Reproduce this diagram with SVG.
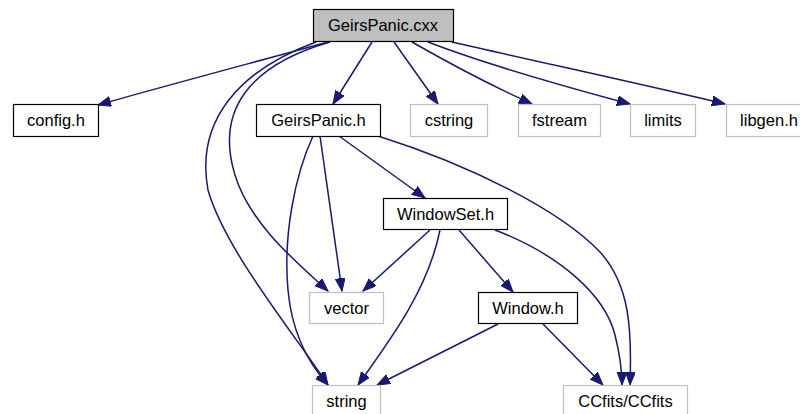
<svg xmlns="http://www.w3.org/2000/svg" width="800" height="414" viewBox="0 0 800 414">
<style>
.n rect{fill:#ffffff;stroke:#000000;stroke-width:1.2}
.n.root rect{fill:#bfbfbf}
.n.ext rect{stroke:#bfbfbf}
.n text{font-family:"Liberation Sans",Arial,sans-serif;font-size:16.5px;fill:#000000;text-anchor:middle}
#edges path{fill:none;stroke:#191970;stroke-width:1.5;marker-end:url(#arr)}
</style>
<defs>
<marker id="arr" markerUnits="userSpaceOnUse" markerWidth="14" markerHeight="11" refX="13" refY="5" orient="auto">
<path d="M0,0 L13,5 L0,10 z" fill="#191970" stroke="#191970" stroke-width="1"/>
</marker>
</defs>
<rect width="800" height="414" fill="#ffffff"/>
<g id="edges">
<path d="M328,42 C270,58 150,90 98,105"/>
<path d="M372,42 L333,104"/>
<path d="M394,42 L438,104"/>
<path d="M412,42 C440,58 490,85 532,104"/>
<path d="M428,42 C480,62 570,88 630,104"/>
<path d="M452,42 C530,60 650,86 725,104"/>
<path d="M330,42 C250,65 215,110 235,175 C250,225 300,265 328,291"/>
<path d="M316,42 C240,70 195,120 208,190 C225,250 295,335 328,385"/>
<path d="M313,136 C295,175 283,235 288,290 C292,335 310,365 328,385"/>
<path d="M320,136 L342,291"/>
<path d="M339,136 L425,198"/>
<path d="M378,136 C470,165 560,210 600,252 C630,285 632,330 630,385"/>
<path d="M430,230 L363,291"/>
<path d="M459,230 L513,292"/>
<path d="M440,230 C428,290 390,340 358,385"/>
<path d="M498,324 L377,385"/>
<path d="M543,324 L603,385"/>
<path d="M495,230 C560,255 605,295 615,335 C620,355 622,370 622,385"/>
</g>
<g id="n_cxx" class="n root"><rect x="313.5" y="9.5" width="140" height="32"/><text x="383" y="31">GeirsPanic.cxx</text></g>
<g id="n_config" class="n"><rect x="13.5" y="104.5" width="85" height="32"/><text x="56" y="126">config.h</text></g>
<g id="n_gph" class="n"><rect x="256.5" y="104.5" width="124" height="32"/><text x="318.5" y="126">GeirsPanic.h</text></g>
<g id="n_cstring" class="n ext"><rect x="410.5" y="104.5" width="77" height="32"/><text x="449" y="126">cstring</text></g>
<g id="n_fstream" class="n ext"><rect x="518.5" y="104.5" width="82" height="32"/><text x="559.5" y="126">fstream</text></g>
<g id="n_limits" class="n ext"><rect x="630.5" y="104.5" width="65" height="32"/><text x="663" y="126">limits</text></g>
<g id="n_libgen" class="n ext"><rect x="726.5" y="104.5" width="85" height="32"/><text x="769" y="126">libgen.h</text></g>
<g id="n_wset" class="n"><rect x="383.5" y="198.5" width="124" height="31"/><text x="445.5" y="220">WindowSet.h</text></g>
<g id="n_vector" class="n ext"><rect x="309.5" y="292.5" width="74" height="31"/><text x="346.5" y="314">vector</text></g>
<g id="n_window" class="n"><rect x="478.5" y="292.5" width="99" height="31"/><text x="528" y="314">Window.h</text></g>
<g id="n_string" class="n ext"><rect x="312.5" y="385.5" width="68" height="32"/><text x="346.5" y="407">string</text></g>
<g id="n_ccfits" class="n ext"><rect x="563.5" y="385.5" width="124" height="32"/><text x="625.5" y="407">CCfits/CCfits</text></g>
</svg>
